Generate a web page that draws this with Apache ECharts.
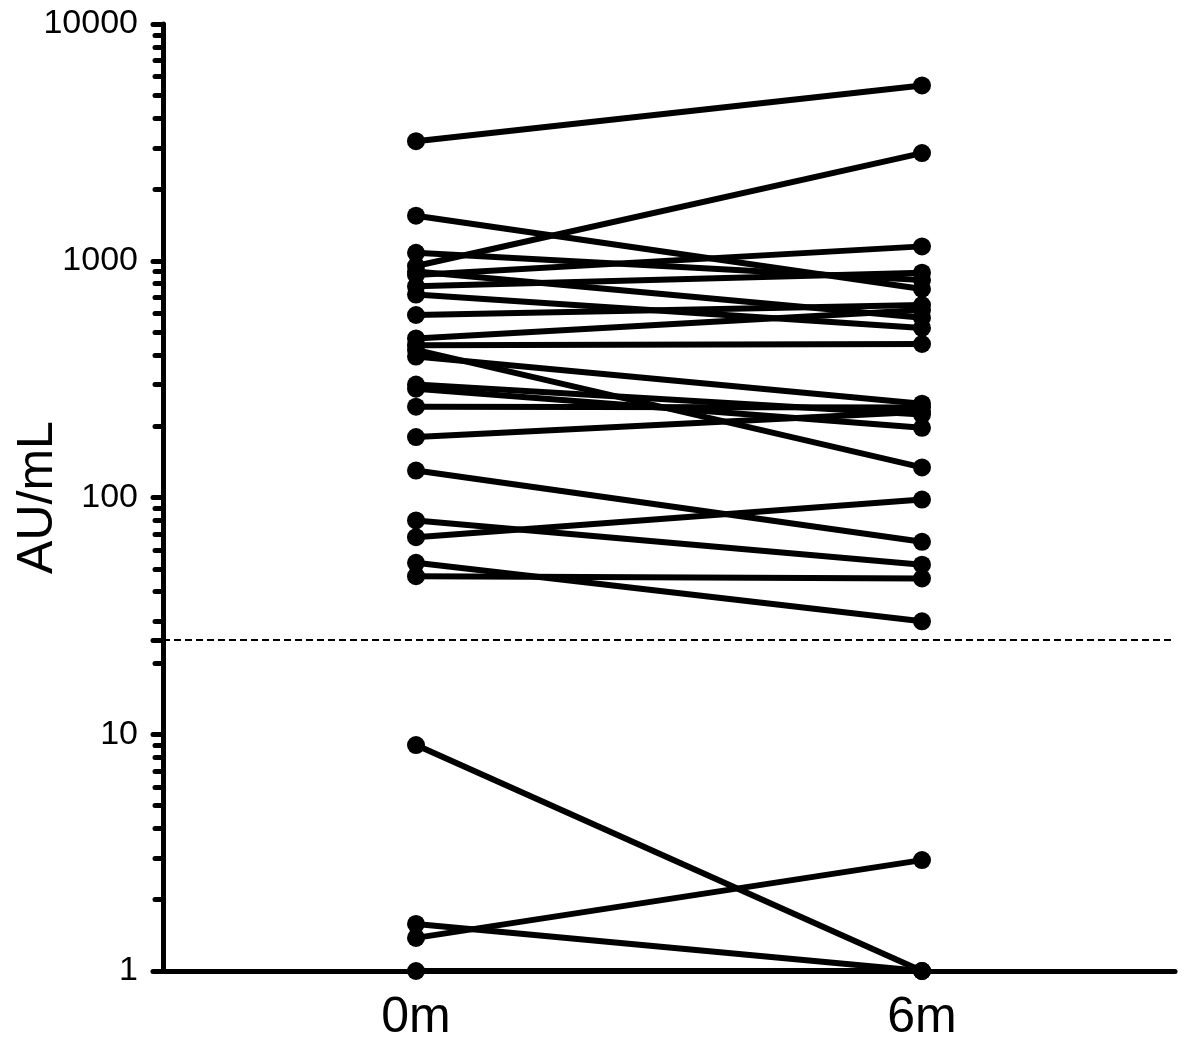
<!DOCTYPE html>
<html>
<head>
<meta charset="utf-8">
<script src="https://cdn.jsdelivr.net/npm/echarts@6/dist/echarts.min.js"></script>
<style>
html,body{margin:0;padding:0;background:#fff;}
#chart{width:1200px;height:1056px;}
</style>
</head>
<body>
<div id="chart"></div>
<script>
const categories = ['0m', '6m'];
const month0 = [3200, 1550, 1080, 950, 900, 870, 780, 720, 590, 470, 440, 420, 394, 300, 288, 242, 180, 130, 80, 68, 53, 46.5, 9, 1.58, 1.38, 1];
const month6 = [5500, 760, 830, 2850, 575, 1150, 890, 520, 650, 620, 445, 134, 249, 224, 197, 240, 230, 65, 52, 98, 30, 45.5, 1, 1, 2.94, 1];
const majorTicks = [1, 10, 100, 1000, 10000];
const minorTicks = [2, 3, 4, 5, 6, 7, 8, 9,
  20, 30, 40, 50, 60, 70, 80, 90,
  200, 300, 400, 500, 600, 700, 800, 900,
  2000, 3000, 4000, 5000, 6000, 7000, 8000, 9000];
const thresholdValue = 25;
const yAxisName = 'AU/mL';

const FONT = "'Liberation Sans', Arial, Helvetica, sans-serif";
const chart = echarts.init(document.getElementById('chart'), null, {renderer: 'canvas'});

const series = month0.map((v, i) => {
  const s = {
    type: 'line',
    data: [v, month6[i]],
    symbol: 'circle',
    symbolSize: 18,
    clip: false,
    silent: true,
    lineStyle: {color: '#000', width: 6},
    itemStyle: {color: '#000'},
    z: 3
  };
  if (i === 0) {
    s.markLine = {
      silent: true,
      symbol: ['none', 'none'],
      label: {show: false},
      lineStyle: {color: '#000', width: 2, type: [7, 4]},
      data: [{yAxis: thresholdValue}],
      z: 1
    };
  }
  return s;
});

chart.setOption({
  animation: false,
  backgroundColor: '#fff',
  grid: {left: 163, right: 25, top: 24, bottom: 85, containLabel: false, outerBoundsMode: 'none'},
  xAxis: {
    type: 'category',
    data: categories,
    boundaryGap: true,
    axisLine: {lineStyle: {color: '#000', width: 5}},
    axisTick: {show: false},
    axisLabel: {color: '#000', fontSize: 50, fontFamily: FONT, margin: 22},
    splitLine: {show: false}
  },
  yAxis: [{
    type: 'log',
    logBase: 10,
    min: 1,
    max: 10000,
    name: yAxisName,
    nameLocation: 'middle',
    nameRotate: 90,
    nameGap: 100,
    nameMoveOverlap: false,
    nameTextStyle: {color: '#000', fontSize: 50, fontFamily: FONT},
    axisLine: {show: true, lineStyle: {color: '#000', width: 5}},
    axisTick: {show: true, length: 10, customValues: majorTicks.concat([thresholdValue]),
      lineStyle: {color: '#000', width: 5, cap: 'round'}},
    axisLabel: {color: '#000', fontSize: 34, fontFamily: FONT, margin: 25, customValues: majorTicks,
      formatter: (v) => String(Math.round(v))},
    splitLine: {show: false}
  }, {
    type: 'log',
    logBase: 10,
    min: 1,
    max: 10000,
    position: 'left',
    offset: 0,
    axisLine: {show: false},
    axisTick: {show: true, length: 8, customValues: minorTicks,
      lineStyle: {color: '#000', width: 5, cap: 'round'}},
    axisLabel: {show: false},
    splitLine: {show: false}
  }],
  series: series
});
</script>
</body>
</html>
